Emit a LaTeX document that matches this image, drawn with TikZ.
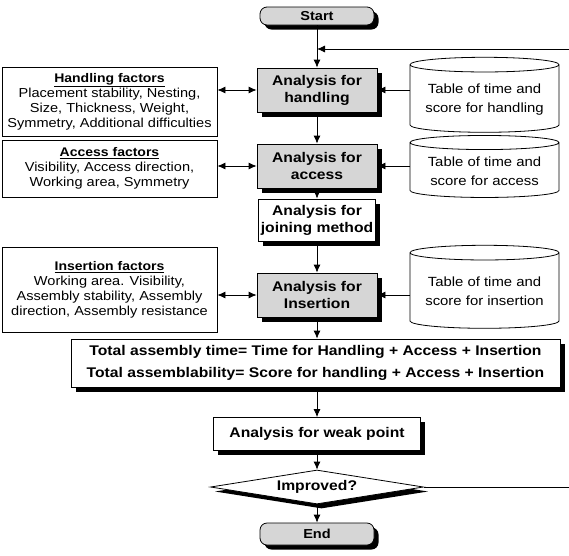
\documentclass[tikz,border=0pt]{standalone}
\usepackage{fontspec}
\setmainfont{Liberation Sans}[FakeStretch=1.12]
\usepackage{tikz}
\usetikzlibrary{arrows.meta}
\usetikzlibrary{shapes.geometric}
\usetikzlibrary{shadows}

\begin{document}
\begin{tikzpicture}[x=1pt, y=-1pt, line width=0.8pt,
        every node/.style={align=center, inner sep=2pt, font=\fontsize{13}{15}\selectfont},
        shade box/.style={drop shadow={fill=black, opacity=1, shadow xshift=4.5pt, shadow yshift=-4.5pt}},
        flow/.style={draw, fill=gray!32, shade box, minimum width=120pt, minimum height=44pt, font=\fontsize{14}{17}\selectfont\bfseries},
        plain/.style={draw, fill=white, shade box, font=\fontsize{14}{17}\selectfont\bfseries},
        factor/.style={draw, fill=white, minimum width=215pt},
        table/.style={cylinder, draw, fill=white, shape border rotate=90, aspect=0.12, minimum width=149pt, font=\fontsize{13.3}{19}\selectfont},
        decision/.style={diamond, draw, fill=white, shade box, aspect=6, inner sep=0pt, minimum width=213pt, minimum height=34pt, font=\fontsize{14}{17}\selectfont\bfseries},
        >={Latex[length=8pt, width=7pt]}]

        \useasboundingbox (0,0) rectangle (569,555);

        % Nodes
        \node[flow, rounded corners=7pt, minimum width=114pt, minimum height=18pt, font=\fontsize{13}{15}\selectfont\bfseries] (S) at (317,16) {Start};
        \node[flow] (AH) at (317,90) {Analysis for\\handling};
        \node[flow] (AA) at (317,166) {Analysis for\\access};
        \node[plain, minimum width=114pt, minimum height=42pt] (AJ) at (317,220) {Analysis for\\joining method};
        \node[flow] (AI) at (317,295) {Analysis for\\Insertion};

        \node[factor, minimum height=69pt] (FH) at (109.5,101.5) {{\fontsize{12.5}{15}\selectfont\bfseries\underline{Handling factors}}\\Placement stability, Nesting,\\Size, Thickness, Weight,\\Symmetry, Additional difficulties};
        \node[factor, minimum height=57pt] (FA) at (109.5,168.5) {{\fontsize{12.5}{15}\selectfont\bfseries\underline{Access factors}}\\Visibility, Access direction,\\Working area, Symmetry};
        \node[factor, minimum height=85pt] (FI) at (109.5,289.5) {{\fontsize{12.5}{15}\selectfont\bfseries\underline{Insertion factors}}\\Working area. Visibility,\\Assembly stability, Assembly\\direction, Assembly resistance};

        \node[table, minimum height=75pt] (TH) at (484.5,99.5) {Table of time and\\score for handling};
        \node[table, minimum height=62pt] (TA) at (484.5,171) {Table of time and\\score for access};
        \node[table, minimum height=83pt] (TI) at (484.5,291.5) {Table of time and\\score for insertion};

        \node[plain, minimum width=489pt, minimum height=48pt, font=\fontsize{14}{22}\selectfont\bfseries] (T) at (315.5,363) {Total assembly time= Time for Handling + Access + Insertion\\Total assemblability= Score for handling + Access + Insertion};
        \node[plain, minimum width=207pt, minimum height=33pt] (W) at (317,434) {Analysis for weak point};
        \node[decision] (I) at (317,487) {Improved?};
        \node[flow, rounded corners=7pt, minimum width=114pt, minimum height=22pt, font=\fontsize{13}{15}\selectfont\bfseries] (E) at (317,534) {End};

        \coordinate (R1) at (569,49);
        \coordinate (R2) at (569,487);

        % Edges
        \draw[->] (S) -- (AH);
        \draw[->] (AH) -- (AA);
        \draw[->] (AA) -- (AJ);
        \draw[->] (AJ) -- (AI);
        \draw[->] (AI) -- (AI |- T.north);
        \draw[->] (W |- T.south) -- (W);
        \draw[->] (W) -- (I);
        \draw[->] (I) -- (E);
        \draw[->] (R1) -- (S |- R1);
        \draw (I.east) -- (R2);

        \draw[<->] (FH.east |- AH) -- (AH);
        \draw[<->] (FA.east |- AA) -- (AA);
        \draw[<->] (FI.east |- AI) -- (AI);
        \draw[->] (TH.west |- AH) -- (AH);
        \draw[->] (TA.west |- AA) -- (AA);
        \draw[->] (TI.west |- AI) -- (AI);

    \end{tikzpicture}
\end{document}
